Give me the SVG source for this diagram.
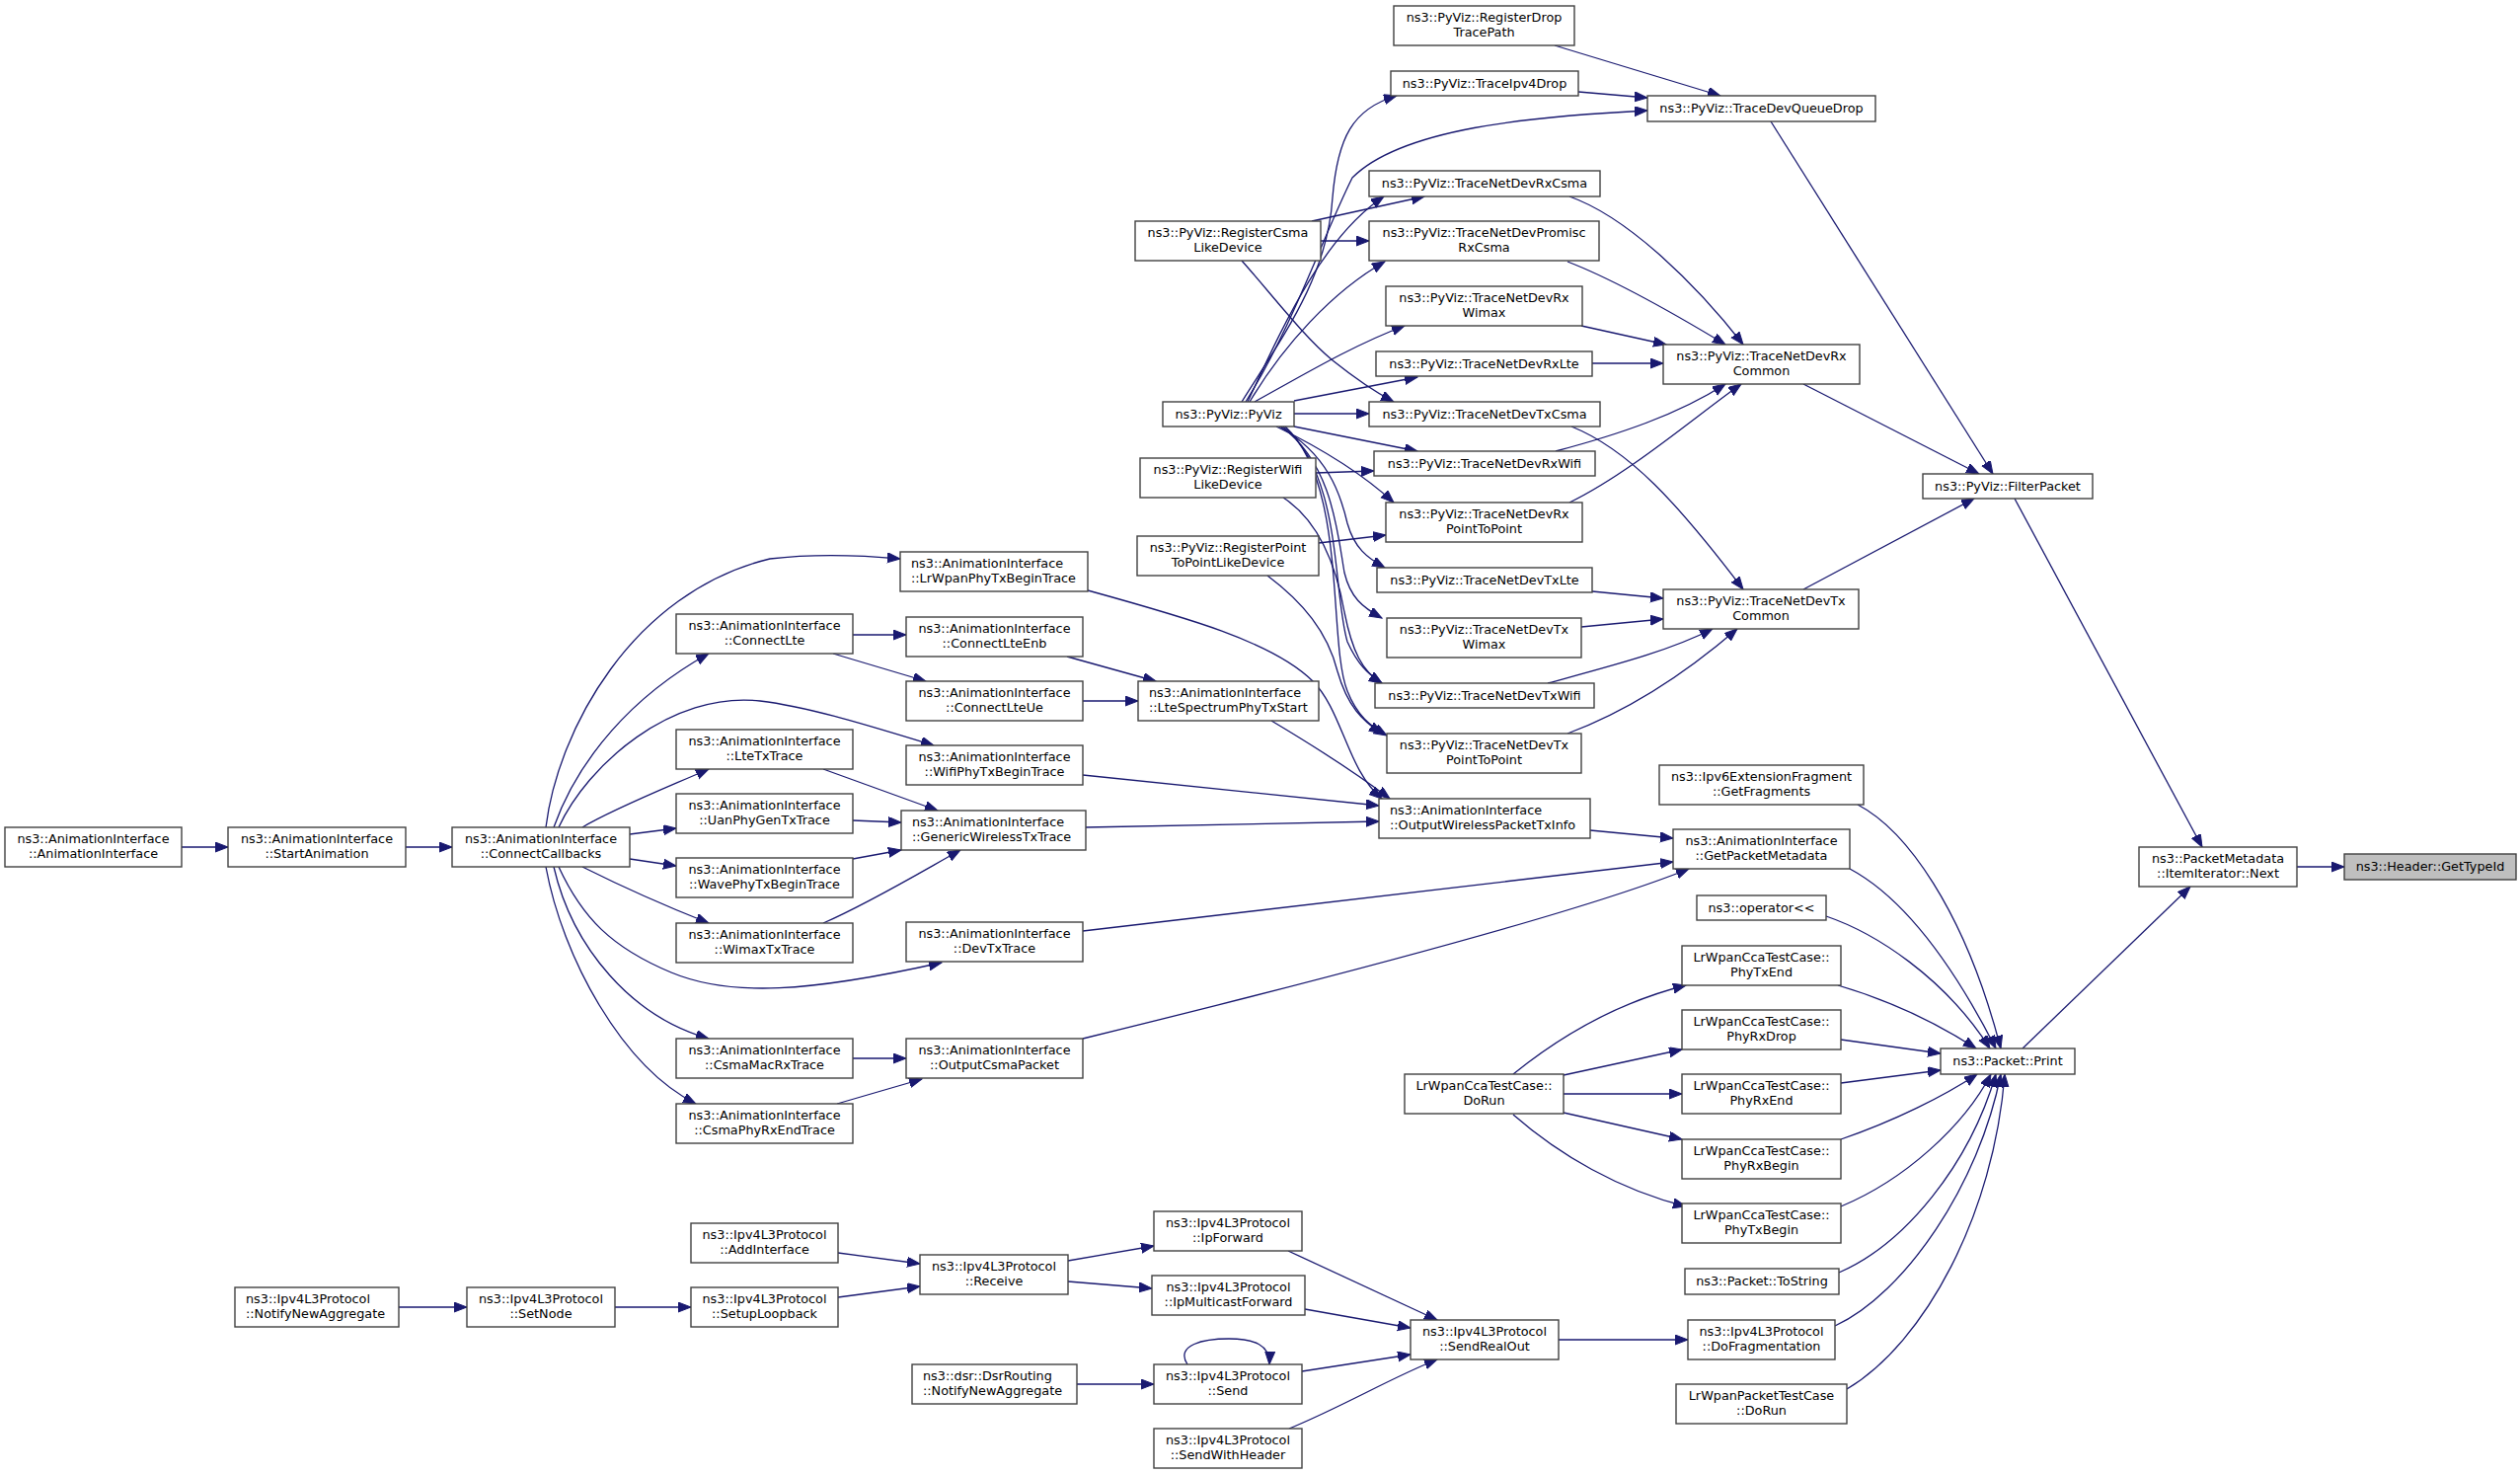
<svg xmlns="http://www.w3.org/2000/svg" width="2553" height="1493" viewBox="0 0 2553 1493">
<style>
.n rect{fill:#fff;stroke:#404040;stroke-width:1.4}
.n text{font-family:"DejaVu Sans",sans-serif;font-size:12.8px;fill:#000;text-anchor:middle}
.n.l text{text-anchor:start}
#n_gettypeid rect{fill:#bfbfbf}
.e path{fill:none;stroke:#191970;stroke-width:1.3;marker-end:url(#a)}
</style>
<defs>
<marker id="a" markerUnits="userSpaceOnUse" markerWidth="14" markerHeight="11" refX="13" refY="5" orient="auto"><path d="M0,0 L13,5 L0,10 z" fill="#191970" stroke="#191970" stroke-width="1"/></marker>
</defs>
<rect x="0" y="0" width="2553" height="1493" fill="#fff"/>
<g id="edges" class="e">
<path d="M184,858 L231,858"/>
<path d="M411,858 L458,858"/>
<path d="M553,838 C565,740 640,600 780,566 C830,560 880,563 912,566"/>
<path d="M561,838 C585,770 640,705 718,662"/>
<path d="M566,838 C595,775 680,700 770,710 C820,716 880,735 946,755"/>
<path d="M590,838 C620,820 670,800 718,779"/>
<path d="M638,845 L685,839"/>
<path d="M638,870 L685,877"/>
<path d="M590,878 C630,898 680,920 718,935"/>
<path d="M566,878 C590,930 620,960 680,985 C740,1010 820,1005 954,975"/>
<path d="M561,878 C580,960 640,1030 718,1052"/>
<path d="M553,878 C570,970 630,1080 705,1118"/>
<path d="M864,643 L918,643"/>
<path d="M844,662 L938,690"/>
<path d="M1081,665 L1171,690"/>
<path d="M1097,710 L1153,710"/>
<path d="M834,779 L950,821"/>
<path d="M864,831 L913,833"/>
<path d="M864,870 L913,861"/>
<path d="M834,935 C880,915 930,885 973,861"/>
<path d="M1102,598 C1200,625 1290,650 1330,690 C1360,720 1365,780 1400,809"/>
<path d="M1288,730 C1330,755 1370,780 1408,809"/>
<path d="M1097,785 L1397,816"/>
<path d="M1100,838 L1397,832"/>
<path d="M1097,943 L1695,873"/>
<path d="M864,1072 L918,1072"/>
<path d="M848,1118 L934,1093"/>
<path d="M1097,1052 C1350,990 1600,925 1711,880"/>
<path d="M1611,841 L1695,849"/>
<path d="M1575,46 L1743,97"/>
<path d="M1599,93 L1669,99"/>
<path d="M1258,407 C1300,340 1345,280 1350,200 C1355,140 1370,110 1415,97"/>
<path d="M1262,407 C1310,330 1340,240 1370,180 C1420,130 1550,118 1669,112"/>
<path d="M1264,407 C1300,330 1340,240 1402,199"/>
<path d="M1266,407 C1300,350 1350,295 1403,265"/>
<path d="M1271,407 C1320,380 1370,350 1423,330"/>
<path d="M1311,406 L1436,382"/>
<path d="M1311,419 L1387,419"/>
<path d="M1311,432 L1436,457"/>
<path d="M1293,432 C1330,450 1375,475 1412,509"/>
<path d="M1296,432 C1345,460 1358,500 1365,530 C1372,555 1385,565 1403,575"/>
<path d="M1298,432 C1350,470 1355,540 1362,580 C1368,605 1380,615 1400,626"/>
<path d="M1300,432 C1360,480 1350,600 1365,650 C1375,672 1385,682 1400,692"/>
<path d="M1302,432 C1365,490 1345,650 1365,700 C1375,725 1388,735 1405,745"/>
<path d="M1329,224 L1443,199"/>
<path d="M1338,244 L1387,244"/>
<path d="M1258,264 C1290,300 1320,340 1350,365 C1375,385 1395,398 1412,407"/>
<path d="M1333,479 L1392,477"/>
<path d="M1300,504 C1340,530 1355,580 1362,620 C1370,660 1380,680 1400,692"/>
<path d="M1336,550 L1404,542"/>
<path d="M1284,583 C1320,610 1345,640 1355,680 C1365,715 1380,730 1400,743"/>
<path d="M1590,199 C1650,220 1720,290 1766,349"/>
<path d="M1588,265 C1640,285 1700,320 1748,349"/>
<path d="M1602,330 L1688,349"/>
<path d="M1613,368 L1685,368"/>
<path d="M1576,457 C1640,440 1700,420 1748,389"/>
<path d="M1590,509 C1650,480 1720,420 1764,389"/>
<path d="M1592,432 C1650,455 1700,510 1766,597"/>
<path d="M1613,599 L1685,606"/>
<path d="M1602,635 L1685,627"/>
<path d="M1568,692 C1630,675 1690,660 1735,637"/>
<path d="M1588,743 C1650,720 1710,680 1760,637"/>
<path d="M1794,123 L2019,480"/>
<path d="M1827,389 L2005,480"/>
<path d="M1827,597 L2000,505"/>
<path d="M2041,505 L2231,858"/>
<path d="M2049,1062 L2219,898"/>
<path d="M2327,878 L2375,878"/>
<path d="M1882,815 C1930,840 1990,920 2027,1062"/>
<path d="M1874,880 C1930,910 1980,980 2022,1062"/>
<path d="M1850,928 C1900,945 1970,990 2016,1062"/>
<path d="M1862,998 C1910,1012 1960,1035 2002,1062"/>
<path d="M1865,1053 L1966,1067"/>
<path d="M1865,1097 L1966,1084"/>
<path d="M1865,1154 C1920,1135 1970,1110 2003,1088"/>
<path d="M1865,1222 C1930,1195 1990,1140 2017,1088"/>
<path d="M1863,1289 C1930,1260 1995,1180 2022,1088"/>
<path d="M1859,1343 C1930,1310 2005,1200 2027,1088"/>
<path d="M1871,1407 C1950,1360 2020,1230 2031,1088"/>
<path d="M1533,1088 C1580,1050 1640,1015 1708,998"/>
<path d="M1584,1089 L1704,1063"/>
<path d="M1584,1108 L1704,1108"/>
<path d="M1584,1127 L1704,1154"/>
<path d="M1533,1129 C1580,1170 1640,1205 1708,1222"/>
<path d="M1579,1357 L1710,1357"/>
<path d="M1305,1267 L1456,1337"/>
<path d="M1322,1326 L1429,1345"/>
<path d="M1319,1389 L1429,1372"/>
<path d="M1306,1447 C1360,1425 1410,1395 1456,1377"/>
<path d="M1203,1382 C1190,1362 1220,1356 1245,1356 C1270,1356 1287,1362 1286,1382"/>
<path d="M1082,1277 L1169,1262"/>
<path d="M1082,1298 L1167,1305"/>
<path d="M849,1269 L932,1280"/>
<path d="M849,1314 L932,1303"/>
<path d="M623,1324 L700,1324"/>
<path d="M404,1324 L473,1324"/>
<path d="M1091,1402 L1169,1402"/>
</g>
<g id="n_animif" class="n"><rect x="5" y="838" width="179" height="40"/><text x="94.5" y="854">ns3::AnimationInterface</text><text x="94.5" y="869">::AnimationInterface</text></g>
<g id="n_startanim" class="n"><rect x="231" y="838" width="180" height="40"/><text x="321" y="854">ns3::AnimationInterface</text><text x="321" y="869">::StartAnimation</text></g>
<g id="n_connectcb" class="n"><rect x="458" y="838" width="180" height="40"/><text x="548" y="854">ns3::AnimationInterface</text><text x="548" y="869">::ConnectCallbacks</text></g>
<g id="n_lrwpan" class="n l"><rect x="912" y="559" width="190" height="40"/><text x="923" y="575">ns3::AnimationInterface</text><text x="923" y="590">::LrWpanPhyTxBeginTrace</text></g>
<g id="n_connectlte" class="n"><rect x="685" y="622" width="179" height="40"/><text x="774.5" y="638">ns3::AnimationInterface</text><text x="774.5" y="653">::ConnectLte</text></g>
<g id="n_connectlteenb" class="n"><rect x="918" y="625" width="179" height="40"/><text x="1007.5" y="641">ns3::AnimationInterface</text><text x="1007.5" y="656">::ConnectLteEnb</text></g>
<g id="n_connectlteue" class="n"><rect x="918" y="690" width="179" height="40"/><text x="1007.5" y="706">ns3::AnimationInterface</text><text x="1007.5" y="721">::ConnectLteUe</text></g>
<g id="n_ltespectrum" class="n l"><rect x="1153" y="690" width="183" height="40"/><text x="1164" y="706">ns3::AnimationInterface</text><text x="1164" y="721">::LteSpectrumPhyTxStart</text></g>
<g id="n_ltetx" class="n"><rect x="685" y="739" width="179" height="40"/><text x="774.5" y="755">ns3::AnimationInterface</text><text x="774.5" y="770">::LteTxTrace</text></g>
<g id="n_wifiphy" class="n"><rect x="918" y="755" width="179" height="40"/><text x="1007.5" y="771">ns3::AnimationInterface</text><text x="1007.5" y="786">::WifiPhyTxBeginTrace</text></g>
<g id="n_uan" class="n"><rect x="685" y="804" width="179" height="40"/><text x="774.5" y="820">ns3::AnimationInterface</text><text x="774.5" y="835">::UanPhyGenTxTrace</text></g>
<g id="n_generic" class="n l"><rect x="913" y="821" width="187" height="40"/><text x="924" y="837">ns3::AnimationInterface</text><text x="924" y="852">::GenericWirelessTxTrace</text></g>
<g id="n_wave" class="n"><rect x="685" y="869" width="179" height="40"/><text x="774.5" y="885">ns3::AnimationInterface</text><text x="774.5" y="900">::WavePhyTxBeginTrace</text></g>
<g id="n_wimaxtx" class="n"><rect x="685" y="935" width="179" height="40"/><text x="774.5" y="951">ns3::AnimationInterface</text><text x="774.5" y="966">::WimaxTxTrace</text></g>
<g id="n_devtx" class="n"><rect x="918" y="934" width="179" height="40"/><text x="1007.5" y="950">ns3::AnimationInterface</text><text x="1007.5" y="965">::DevTxTrace</text></g>
<g id="n_csmamac" class="n"><rect x="685" y="1052" width="179" height="40"/><text x="774.5" y="1068">ns3::AnimationInterface</text><text x="774.5" y="1083">::CsmaMacRxTrace</text></g>
<g id="n_outcsma" class="n"><rect x="918" y="1052" width="179" height="40"/><text x="1007.5" y="1068">ns3::AnimationInterface</text><text x="1007.5" y="1083">::OutputCsmaPacket</text></g>
<g id="n_csmaphy" class="n"><rect x="685" y="1118" width="179" height="40"/><text x="774.5" y="1134">ns3::AnimationInterface</text><text x="774.5" y="1149">::CsmaPhyRxEndTrace</text></g>
<g id="n_regp2p" class="n"><rect x="1152" y="543" width="184" height="40"/><text x="1244" y="559">ns3::PyViz::RegisterPoint</text><text x="1244" y="574">ToPointLikeDevice</text></g>
<g id="n_regcsma" class="n"><rect x="1150" y="224" width="188" height="40"/><text x="1244" y="240">ns3::PyViz::RegisterCsma</text><text x="1244" y="255">LikeDevice</text></g>
<g id="n_pyviz" class="n"><rect x="1178" y="407" width="133" height="25"/><text x="1244.5" y="424">ns3::PyViz::PyViz</text></g>
<g id="n_regwifi" class="n"><rect x="1155" y="464" width="178" height="40"/><text x="1244" y="480">ns3::PyViz::RegisterWifi</text><text x="1244" y="495">LikeDevice</text></g>
<g id="n_regdrop" class="n"><rect x="1412" y="6" width="183" height="40"/><text x="1503.5" y="22">ns3::PyViz::RegisterDrop</text><text x="1503.5" y="37">TracePath</text></g>
<g id="n_ipv4drop" class="n"><rect x="1409" y="72" width="190" height="25"/><text x="1504" y="89">ns3::PyViz::TraceIpv4Drop</text></g>
<g id="n_devqueue" class="n"><rect x="1669" y="97" width="231" height="26"/><text x="1784.5" y="114">ns3::PyViz::TraceDevQueueDrop</text></g>
<g id="n_rxcsma" class="n"><rect x="1387" y="173" width="234" height="26"/><text x="1504" y="190">ns3::PyViz::TraceNetDevRxCsma</text></g>
<g id="n_promisc" class="n"><rect x="1387" y="224" width="233" height="40"/><text x="1503.5" y="240">ns3::PyViz::TraceNetDevPromisc</text><text x="1503.5" y="255">RxCsma</text></g>
<g id="n_rxwimax" class="n"><rect x="1404" y="290" width="199" height="40"/><text x="1503.5" y="306">ns3::PyViz::TraceNetDevRx</text><text x="1503.5" y="321">Wimax</text></g>
<g id="n_rxlte" class="n"><rect x="1394" y="356" width="219" height="25"/><text x="1503.5" y="373">ns3::PyViz::TraceNetDevRxLte</text></g>
<g id="n_rxcommon" class="n"><rect x="1685" y="349" width="199" height="40"/><text x="1784.5" y="365">ns3::PyViz::TraceNetDevRx</text><text x="1784.5" y="380">Common</text></g>
<g id="n_txcsma" class="n"><rect x="1387" y="407" width="234" height="25"/><text x="1504" y="424">ns3::PyViz::TraceNetDevTxCsma</text></g>
<g id="n_rxwifi" class="n"><rect x="1392" y="457" width="224" height="25"/><text x="1504" y="474">ns3::PyViz::TraceNetDevRxWifi</text></g>
<g id="n_filter" class="n"><rect x="1948" y="480" width="172" height="25"/><text x="2034" y="497">ns3::PyViz::FilterPacket</text></g>
<g id="n_rxp2p" class="n"><rect x="1404" y="509" width="199" height="40"/><text x="1503.5" y="525">ns3::PyViz::TraceNetDevRx</text><text x="1503.5" y="540">PointToPoint</text></g>
<g id="n_txlte" class="n"><rect x="1395" y="575" width="218" height="25"/><text x="1504" y="592">ns3::PyViz::TraceNetDevTxLte</text></g>
<g id="n_txcommon" class="n"><rect x="1685" y="597" width="198" height="40"/><text x="1784" y="613">ns3::PyViz::TraceNetDevTx</text><text x="1784" y="628">Common</text></g>
<g id="n_txwimax" class="n"><rect x="1405" y="626" width="197" height="40"/><text x="1503.5" y="642">ns3::PyViz::TraceNetDevTx</text><text x="1503.5" y="657">Wimax</text></g>
<g id="n_txwifi" class="n"><rect x="1393" y="692" width="222" height="25"/><text x="1504" y="709">ns3::PyViz::TraceNetDevTxWifi</text></g>
<g id="n_txp2p" class="n"><rect x="1405" y="743" width="197" height="40"/><text x="1503.5" y="759">ns3::PyViz::TraceNetDevTx</text><text x="1503.5" y="774">PointToPoint</text></g>
<g id="n_getfrag" class="n"><rect x="1681" y="775" width="207" height="40"/><text x="1784.5" y="791">ns3::Ipv6ExtensionFragment</text><text x="1784.5" y="806">::GetFragments</text></g>
<g id="n_outwireless" class="n l"><rect x="1397" y="809" width="214" height="40"/><text x="1408" y="825">ns3::AnimationInterface</text><text x="1408" y="840">::OutputWirelessPacketTxInfo</text></g>
<g id="n_getpm" class="n"><rect x="1695" y="840" width="179" height="40"/><text x="1784.5" y="856">ns3::AnimationInterface</text><text x="1784.5" y="871">::GetPacketMetadata</text></g>
<g id="n_next" class="n"><rect x="2167" y="858" width="160" height="40"/><text x="2247" y="874">ns3::PacketMetadata</text><text x="2247" y="889">::ItemIterator::Next</text></g>
<g id="n_gettypeid" class="n"><rect x="2375" y="865" width="174" height="26"/><text x="2462" y="882">ns3::Header::GetTypeId</text></g>
<g id="n_oplt" class="n"><rect x="1719" y="907" width="131" height="25"/><text x="1784.5" y="924">ns3::operator&lt;&lt;</text></g>
<g id="n_phytxend" class="n"><rect x="1704" y="958" width="161" height="40"/><text x="1784.5" y="974">LrWpanCcaTestCase::</text><text x="1784.5" y="989">PhyTxEnd</text></g>
<g id="n_phyrxdrop" class="n"><rect x="1704" y="1023" width="161" height="40"/><text x="1784.5" y="1039">LrWpanCcaTestCase::</text><text x="1784.5" y="1054">PhyRxDrop</text></g>
<g id="n_print" class="n"><rect x="1966" y="1062" width="136" height="26"/><text x="2034" y="1079">ns3::Packet::Print</text></g>
<g id="n_ccadorun" class="n"><rect x="1423" y="1088" width="161" height="40"/><text x="1503.5" y="1104">LrWpanCcaTestCase::</text><text x="1503.5" y="1119">DoRun</text></g>
<g id="n_phyrxend" class="n"><rect x="1704" y="1088" width="161" height="40"/><text x="1784.5" y="1104">LrWpanCcaTestCase::</text><text x="1784.5" y="1119">PhyRxEnd</text></g>
<g id="n_phyrxbegin" class="n"><rect x="1704" y="1154" width="161" height="40"/><text x="1784.5" y="1170">LrWpanCcaTestCase::</text><text x="1784.5" y="1185">PhyRxBegin</text></g>
<g id="n_phytxbegin" class="n"><rect x="1704" y="1219" width="161" height="40"/><text x="1784.5" y="1235">LrWpanCcaTestCase::</text><text x="1784.5" y="1250">PhyTxBegin</text></g>
<g id="n_tostring" class="n"><rect x="1707" y="1285" width="156" height="26"/><text x="1785" y="1302">ns3::Packet::ToString</text></g>
<g id="n_sendrealout" class="n"><rect x="1429" y="1337" width="150" height="40"/><text x="1504" y="1353">ns3::Ipv4L3Protocol</text><text x="1504" y="1368">::SendRealOut</text></g>
<g id="n_dofrag" class="n"><rect x="1710" y="1337" width="149" height="40"/><text x="1784.5" y="1353">ns3::Ipv4L3Protocol</text><text x="1784.5" y="1368">::DoFragmentation</text></g>
<g id="n_pktdorun" class="n"><rect x="1698" y="1402" width="173" height="40"/><text x="1784.5" y="1418">LrWpanPacketTestCase</text><text x="1784.5" y="1433">::DoRun</text></g>
<g id="n_addif" class="n"><rect x="700" y="1239" width="149" height="40"/><text x="774.5" y="1255">ns3::Ipv4L3Protocol</text><text x="774.5" y="1270">::AddInterface</text></g>
<g id="n_receive" class="n"><rect x="932" y="1271" width="150" height="40"/><text x="1007" y="1287">ns3::Ipv4L3Protocol</text><text x="1007" y="1302">::Receive</text></g>
<g id="n_setuploop" class="n"><rect x="700" y="1304" width="149" height="40"/><text x="774.5" y="1320">ns3::Ipv4L3Protocol</text><text x="774.5" y="1335">::SetupLoopback</text></g>
<g id="n_ipfwd" class="n"><rect x="1169" y="1227" width="150" height="40"/><text x="1244" y="1243">ns3::Ipv4L3Protocol</text><text x="1244" y="1258">::IpForward</text></g>
<g id="n_ipmcast" class="n"><rect x="1167" y="1292" width="155" height="40"/><text x="1244.5" y="1308">ns3::Ipv4L3Protocol</text><text x="1244.5" y="1323">::IpMulticastForward</text></g>
<g id="n_dsr" class="n l"><rect x="924" y="1382" width="167" height="40"/><text x="935" y="1398">ns3::dsr::DsrRouting</text><text x="935" y="1413">::NotifyNewAggregate</text></g>
<g id="n_send" class="n"><rect x="1169" y="1382" width="150" height="40"/><text x="1244" y="1398">ns3::Ipv4L3Protocol</text><text x="1244" y="1413">::Send</text></g>
<g id="n_sendwh" class="n"><rect x="1169" y="1447" width="150" height="40"/><text x="1244" y="1463">ns3::Ipv4L3Protocol</text><text x="1244" y="1478">::SendWithHeader</text></g>
<g id="n_notify" class="n l"><rect x="238" y="1304" width="166" height="40"/><text x="249" y="1320">ns3::Ipv4L3Protocol</text><text x="249" y="1335">::NotifyNewAggregate</text></g>
<g id="n_setnode" class="n"><rect x="473" y="1304" width="150" height="40"/><text x="548" y="1320">ns3::Ipv4L3Protocol</text><text x="548" y="1335">::SetNode</text></g>
</svg>
